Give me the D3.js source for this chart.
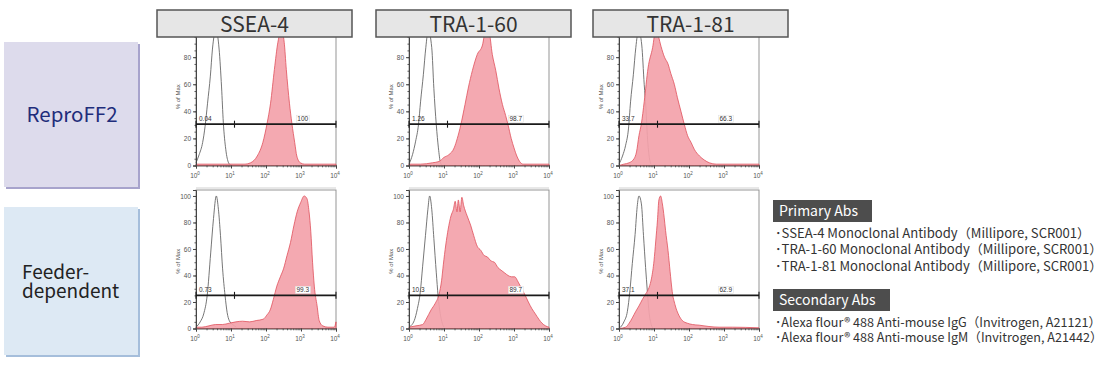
<!DOCTYPE html>
<html>
<head>
<meta charset="utf-8">
<script src="https://cdn.jsdelivr.net/npm/d3@7"></script>
<style>
  body { margin: 0; background: #fff; }
  svg { display: block; }
</style>
</head>
<body>
<script>
// ---- data ----
const markers = ["SSEA-4", "TRA-1-60", "TRA-1-81"];
const cultures = ["ReproFF2", "Feeder-dependent"];
const yTicks = [0, 20, 40, 60, 80, 100];
const xTicks = [1, 10, 100, 1000, 10000];

// gate percentages [row][col]
const gateNeg = [["0.04", "1.26", "33.7"], ["0.73", "10.3", "37.1"]];
const gatePos = [["100", "98.7", "66.3"], ["99.3", "89.7", "62.9"]];
const gateLevel = [30.5, 25];     // % of max where the gate bar sits
const gateSplit = 1.1;            // log10 of the gate boundary

// histograms: [log10 intensity, % of max]
const isoTop1 = [[0,2],[0.09,8],[0.19,17],[0.26,29],[0.33,46],[0.41,66],[0.47,86],[0.57,100],[0.66,86],[0.73,58],[0.78,32],[0.85,12],[0.93,2],[1.0,0]];
const isoTop2 = [[0,1],[0.1,8],[0.19,18],[0.27,30],[0.33,47],[0.41,67],[0.48,87],[0.55,100],[0.65,87],[0.71,57],[0.78,30],[0.84,13],[0.9,2],[0.95,0]];
const isoTop3 = [[0,1],[0.1,7],[0.19,15],[0.27,27],[0.33,47],[0.41,67],[0.48,87],[0.56,100],[0.65,89],[0.72,60],[0.77,42],[0.81,22],[0.86,7],[0.91,1]];
const isoBot1 = [[0,1],[0.12,5],[0.22,11],[0.32,25],[0.42,57],[0.5,83],[0.58,100],[0.64,90],[0.7,70],[0.76,45],[0.83,25],[0.89,12],[0.95,6],[1.05,3],[1.15,1]];
const isoBot2 = [[0,1],[0.15,6],[0.24,15],[0.32,27],[0.39,47],[0.47,70],[0.54,90],[0.59,100],[0.65,90],[0.71,68],[0.78,42],[0.83,25],[0.9,10],[0.95,4],[1.0,1]];
const isoBot3 = [[0,0],[0.14,5],[0.24,13],[0.31,28],[0.38,49],[0.46,71],[0.52,92],[0.57,100],[0.64,94],[0.7,70],[0.76,46],[0.81,28],[0.86,12],[0.92,3],[0.98,0]];

const abTop1 = [[0,1],[1.4,1],[1.56,2],[1.75,7],[1.91,17],[2.03,31],[2.13,46],[2.24,71],[2.34,91],[2.44,100],[2.52,91],[2.58,71],[2.67,46],[2.74,31],[2.82,17],[2.88,7],[2.98,2],[3.1,1],[4,1]];
const abTop2 = [[0,1],[0.33,1],[0.67,2],[0.86,3],[1.0,6],[1.14,8],[1.29,13],[1.38,20],[1.48,30],[1.6,45],[1.7,58],[1.81,70],[1.95,82],[2.1,89],[2.19,100],[2.29,98],[2.38,82],[2.48,70],[2.57,57],[2.67,45],[2.76,37],[2.83,30],[2.92,20],[3.0,13],[3.08,7],[3.16,3],[3.26,1],[4,1]];
const abTop3 = [[0,0],[0.14,1],[0.29,2],[0.43,5],[0.5,10],[0.57,22],[0.64,31],[0.72,47],[0.83,72],[0.96,87],[1.05,100],[1.13,95],[1.2,88],[1.3,80],[1.4,75],[1.48,68],[1.58,60],[1.67,50],[1.77,40],[1.87,30],[1.96,22],[2.06,17],[2.15,12],[2.3,7],[2.44,4],[2.58,2],[2.78,1],[4,1]];
const abBot1 = [[0,1],[0.17,1],[0.37,2],[0.56,3],[0.76,3],[0.95,4],[1.14,5],[1.33,5.5],[1.53,5],[1.72,6],[1.92,7],[2.02,10],[2.12,14],[2.21,22],[2.31,32],[2.41,39],[2.5,45],[2.6,55],[2.7,65],[2.8,78],[2.89,88],[2.99,95],[3.09,100],[3.17,98],[3.23,88],[3.28,73],[3.33,50],[3.38,32],[3.46,17],[3.52,6],[3.62,2],[3.77,1],[3.95,1],[4.0,5]];
const abBot2 = [[0,1],[0.2,2],[0.39,3],[0.49,7],[0.63,14],[0.75,19],[0.86,26],[0.93,36],[0.98,48],[1.05,63],[1.12,75],[1.2,85],[1.27,90],[1.32,96],[1.37,88],[1.41,97],[1.46,88],[1.51,99],[1.56,93],[1.66,85],[1.76,78],[1.85,70],[1.95,62],[2.05,59],[2.15,55],[2.24,54],[2.34,51],[2.44,50],[2.54,46],[2.63,44],[2.73,42],[2.83,40],[2.93,39],[3.02,39],[3.12,35],[3.22,30],[3.32,25],[3.41,20],[3.51,15],[3.61,11],[3.71,7],[3.8,4],[3.9,2],[4.0,1]];
const abBot3 = [[0,0],[0.19,1],[0.29,4],[0.38,8],[0.48,13],[0.57,17],[0.67,22],[0.76,26],[0.86,31],[0.93,38],[1.0,51],[1.05,66],[1.1,82],[1.14,97],[1.19,100],[1.24,94],[1.29,84],[1.33,74],[1.4,59],[1.46,43],[1.52,28],[1.6,18],[1.71,10],[1.81,6],[1.95,4],[2.1,3],[2.29,2.5],[2.57,1.5],[2.86,1],[3.24,1],[4,0.5]];

const isotype = [[isoTop1, isoTop2, isoTop3], [isoBot1, isoBot2, isoBot3]];
const stained = [[abTop1, abTop2, abTop3], [abBot1, abBot2, abBot3]];

const primaryAbs = [
  "･SSEA-4 Monoclonal Antibody（Millipore, SCR001）",
  "･TRA-1-60 Monoclonal Antibody（Millipore, SCR001）",
  "･TRA-1-81 Monoclonal Antibody（Millipore, SCR001）"
];
const secondaryAbs = [
  "･Alexa flour® 488 Anti-mouse IgG（Invitrogen, A21121）",
  "･Alexa flour® 488 Anti-mouse IgM（Invitrogen, A21442）"
];

// ---- layout ----
const width = 1109, height = 365;
const jp = "'Noto Sans CJK JP', 'Noto Sans', sans-serif";
const small = "'Liberation Sans', Arial, sans-serif";
const colLeft = [196, 409, 619];
const plotW = 140;
const rowTop = [24, 190];
const rowBottom = [165.5, 328.5];
const headerX = [157, 376, 593];

let svg = d3.select("body").append("svg")
  .attr("width", width)
  .attr("height", height);

// row label boxes
const boxY = [42, 207], boxH = [145, 148];
const boxFill = ["#dddbec", "#dde9f4"], boxShadow = ["#a7a3cc", "#a5bedb"];
cultures.forEach(function(c, r){
  svg.append("rect").attr("x", 6).attr("y", boxY[r] + 2).attr("width", 134).attr("height", boxH[r])
    .attr("fill", boxShadow[r]);
  svg.append("rect").attr("x", 4).attr("y", boxY[r]).attr("width", 134).attr("height", boxH[r])
    .attr("fill", boxFill[r]);
});
svg.append("text").attr("x", 72).attr("y", 122).attr("text-anchor", "middle")
  .style("font-family", jp).style("font-size", "20.5px").attr("fill", "#1f2d7b")
  .text(cultures[0]);
let fd = svg.append("text")
  .style("font-family", jp).style("font-size", "19px").attr("fill", "#222");
fd.append("tspan").attr("x", 22).attr("y", 279).text("Feeder-");
fd.append("tspan").attr("x", 22).attr("y", 298).text("dependent");

// histogram panels
const x = d3.scaleLog().domain([1, 1e4]).range([0, plotW]);

for (let r = 0; r < 2; r++) {
  const y = d3.scaleLinear().domain([0, 104.5]).range([rowBottom[r], rowTop[r]]);
  const area = d3.area()
    .x(d => x(Math.pow(10, d[0])))
    .y0(y(0))
    .y1(d => y(d[1]))
    .curve(d3.curveMonotoneX);
  const line = d3.line()
    .x(d => x(Math.pow(10, d[0])))
    .y(d => y(d[1]))
    .curve(d3.curveMonotoneX);

  for (let c = 0; c < 3; c++) {
    let g = svg.append("g").attr("transform", "translate(" + colLeft[c] + ",0)");

    // frame
    g.append("rect").attr("x", 0).attr("y", rowTop[r]).attr("width", plotW)
      .attr("height", rowBottom[r] - rowTop[r])
      .attr("fill", "none").attr("stroke", "#8a8a8a").attr("stroke-width", 0.9);

    // isotype outline, then stained fill
    g.append("path").datum(isotype[r][c])
      .attr("d", line).attr("fill", "none").attr("stroke", "#666").attr("stroke-width", 0.9);
    g.append("path").datum(stained[r][c])
      .attr("d", area).attr("fill", "#f3a2aa").attr("fill-opacity", 0.92)
      .attr("stroke", "#e0505c").attr("stroke-width", 0.8);

    // y axis
    let ym = g.append("g")
      .call(d3.axisLeft(y).tickValues(d3.range(0, 101, 5)).tickSize(1.5).tickFormat(""));
    ym.select(".domain").remove();
    ym.selectAll("line").attr("stroke", "#555");
    let ya = g.append("g")
      .call(d3.axisLeft(y).tickValues(yTicks).tickSize(3).tickPadding(2));
    ya.select(".domain").attr("stroke", "#444");
    ya.selectAll("line").attr("stroke", "#444");
    ya.selectAll("text").style("font-family", small).style("font-size", "6.5px").attr("fill", "#555");
    g.append("text")
      .attr("transform", "translate(-16," + ((rowTop[r] + rowBottom[r]) / 2 + 2) + ") rotate(-90)")
      .attr("text-anchor", "middle").style("font-family", small).style("font-size", "6px")
      .attr("fill", "#555").text("% of Max");

    // x axis
    let minor = g.append("g").attr("transform", "translate(0," + rowBottom[r] + ")")
      .call(d3.axisBottom(x).tickValues(x.ticks()).tickSize(1.8).tickFormat(""));
    minor.select(".domain").remove();
    minor.selectAll("line").attr("stroke", "#555");
    let xa = g.append("g").attr("transform", "translate(0," + rowBottom[r] + ")")
      .call(d3.axisBottom(x).tickValues(xTicks).tickSize(3).tickFormat(""));
    xa.select(".domain").attr("stroke", "#555");
    xa.selectAll("line").attr("stroke", "#444");
    xTicks.forEach(function(t){
      let tx = g.append("text").attr("x", x(t) - 1).attr("y", rowBottom[r] + 12)
        .attr("text-anchor", "middle").style("font-family", small).style("font-size", "6.5px")
        .attr("fill", "#555");
      tx.append("tspan").text("10");
      tx.append("tspan").attr("dy", -3).style("font-size", "4.5px").text(Math.round(Math.log10(t)));
    });

    // gate bar
    const gy = y(gateLevel[r]);
    g.append("line").attr("x1", 0).attr("x2", plotW).attr("y1", gy).attr("y2", gy)
      .attr("stroke", "#1a1a1a").attr("stroke-width", 1.7);
    [0, x(Math.pow(10, gateSplit)), plotW].forEach(function(px){
      g.append("line").attr("x1", px).attr("x2", px).attr("y1", gy - 3.5).attr("y2", gy + 3.5)
        .attr("stroke", "#1a1a1a").attr("stroke-width", 1.1);
    });
    g.append("text").attr("x", 3).attr("y", gy - 3)
      .style("font-family", small).style("font-size", "6.5px").attr("fill", "#333")
      .text(gateNeg[r][c]);
    const lx = x(Math.pow(10, 3.05));
    let bg = g.append("rect");
    const lbl = g.append("text").attr("x", lx).attr("y", gy - 3).attr("text-anchor", "middle")
      .style("font-family", small).style("font-size", "6.5px").attr("fill", "#333")
      .text(gatePos[r][c]);
    const bb = lbl.node().getBBox();
    bg.attr("x", bb.x - 1).attr("y", bb.y).attr("width", bb.width + 2).attr("height", bb.height)
      .attr("fill", "#fff").attr("stroke", "#ddd").attr("stroke-width", 0.5);

    if (r === 0) {
      // faint edge of the lower image
      g.append("line").attr("x1", 0).attr("x2", plotW).attr("y1", 188).attr("y2", 188)
        .attr("stroke", "#d0d0d0").attr("stroke-width", 1);
    }
  }
}

// column headers
markers.forEach(function(m, c){
  svg.append("rect").attr("x", headerX[c]).attr("y", 10).attr("width", 195).attr("height", 27)
    .attr("fill", "#e6e6e6").attr("stroke", "#555").attr("stroke-width", 1.5);
  svg.append("text").attr("x", headerX[c] + 97.5).attr("y", 31.5).attr("text-anchor", "middle")
    .style("font-family", jp).style("font-size", "21px").attr("fill", "#333").text(m);
});

// antibody legend
function absBlock(title, lines, top, boxW, lineY, fontPx){
  svg.append("rect").attr("x", 773).attr("y", top).attr("width", boxW).attr("height", 22)
    .attr("fill", "#4d4d4d");
  svg.append("text").attr("x", 779).attr("y", top + 16)
    .style("font-family", jp).style("font-size", "14px").attr("fill", "#fff").text(title);
  lines.forEach(function(t, i){
    svg.append("text").attr("x", 775).attr("y", lineY[i])
      .style("font-family", jp).style("font-size", fontPx + "px").attr("fill", "#333").text(t);
  });
}
absBlock("Primary Abs", primaryAbs, 200, 99, [237.5, 254, 270.5], 13.1);
absBlock("Secondary Abs", secondaryAbs, 289, 117, [327, 342], 12.6);
</script>
</body>
</html>
